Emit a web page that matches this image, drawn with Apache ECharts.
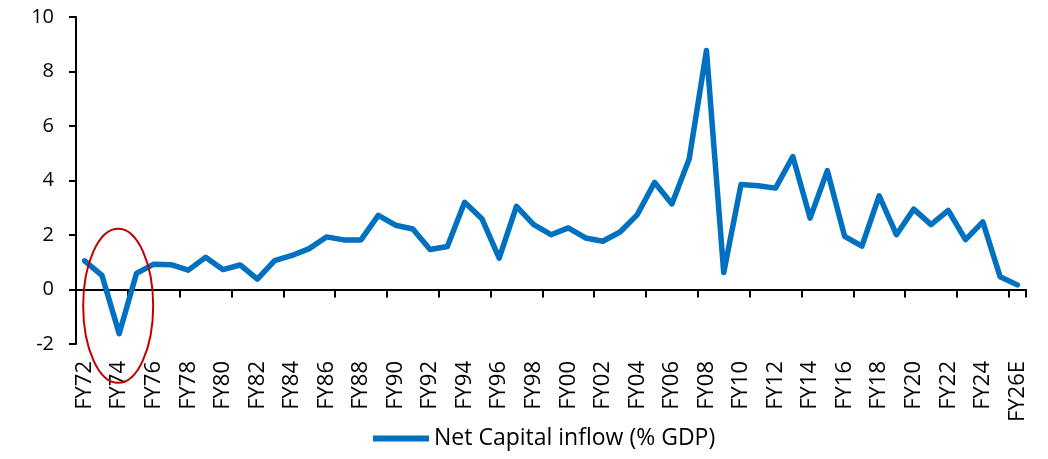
<!DOCTYPE html>
<html>
<head>
<meta charset="utf-8">
<script src="https://cdn.jsdelivr.net/npm/echarts@6/dist/echarts.min.js"></script>
<style>
  html, body { margin: 0; padding: 0; background: #fff; }
  #main { width: 1048px; height: 459px; }
</style>
</head>
<body>
<div id="main"></div>
<script>
// fiscal years FY72 .. FY26E
const years = [
  'FY72', 'FY73', 'FY74', 'FY75', 'FY76', 'FY77', 'FY78', 'FY79', 'FY80', 'FY81',
  'FY82', 'FY83', 'FY84', 'FY85', 'FY86', 'FY87', 'FY88', 'FY89', 'FY90', 'FY91',
  'FY92', 'FY93', 'FY94', 'FY95', 'FY96', 'FY97', 'FY98', 'FY99', 'FY00', 'FY01',
  'FY02', 'FY03', 'FY04', 'FY05', 'FY06', 'FY07', 'FY08', 'FY09', 'FY10', 'FY11',
  'FY12', 'FY13', 'FY14', 'FY15', 'FY16', 'FY17', 'FY18', 'FY19', 'FY20', 'FY21',
  'FY22', 'FY23', 'FY24', 'FY25', 'FY26E'
];

// net capital inflow, % of GDP
const netCapitalInflow = [
  1.05, 0.52, -1.62, 0.59, 0.93, 0.91, 0.71, 1.18, 0.73, 0.90,
  0.38, 1.06, 1.25, 1.50, 1.93, 1.82, 1.82, 2.72, 2.36, 2.22,
  1.47, 1.58, 3.20, 2.60, 1.15, 3.05, 2.38, 2.01, 2.26, 1.89,
  1.77, 2.11, 2.75, 3.93, 3.14, 4.79, 8.77, 0.62, 3.85, 3.81,
  3.72, 4.88, 2.62, 4.36, 1.95, 1.59, 3.44, 2.01, 2.95, 2.38,
  2.90, 1.83, 2.48, 0.47, 0.17
];

const seriesName = 'Net Capital inflow (% GDP)';
const highlightYear = 'FY74';

const chart = echarts.init(document.getElementById('main'));

const option = {
  animation: false,
  textStyle: { fontFamily: 'Open Sans', color: '#000' },
  grid: { left: 76, right: 22, top: 17, bottom: 115 },
  legend: {
    left: 373,
    top: 427,
    padding: 0,
    icon: 'rect',
    itemWidth: 56,
    itemHeight: 6,
    itemGap: 5,
    textStyle: { fontSize: 23, color: '#000', fontFamily: 'Open Sans' },
    data: [seriesName]
  },
  xAxis: [
    {
      // axis line at zero with ticks
      type: 'category',
      data: years,
      boundaryGap: true,
      axisLine: { onZero: true, lineStyle: { color: '#000', width: 2 } },
      axisTick: { show: true, length: 8, lineStyle: { color: '#000', width: 2 } },
      axisLabel: { show: false }
    },
    {
      // labels at the bottom of the plot
      type: 'category',
      data: years,
      position: 'bottom',
      boundaryGap: true,
      axisLine: { show: false, onZero: false },
      axisTick: { show: false },
      axisLabel: {
        interval: 1,
        rotate: 90,
        margin: 17,
        fontSize: 22,
        color: '#000',
        fontFamily: 'Open Sans'
      }
    }
  ],
  yAxis: {
    type: 'value',
    min: -2,
    max: 10,
    interval: 2,
    splitLine: { show: false },
    axisLine: { show: true, lineStyle: { color: '#000', width: 2 } },
    axisTick: { show: true, length: 7, lineStyle: { color: '#000', width: 2 } },
    axisLabel: { fontSize: 20, color: '#000', margin: 22, fontFamily: 'Open Sans' }
  },
  series: [
    {
      name: seriesName,
      type: 'line',
      xAxisIndex: 0,
      data: netCapitalInflow,
      symbol: 'none',
      lineStyle: { color: '#0070C0', width: 5.5, join: 'round', cap: 'round' },
      itemStyle: { color: '#0070C0' }
    }
  ]
};

chart.setOption(option);

// red ellipse around the FY74 dip
const c = chart.convertToPixel({ xAxisIndex: 0, yAxisIndex: 0 }, [highlightYear, -0.6]);
chart.setOption({
  graphic: [{
    type: 'ellipse',
    shape: { cx: c[0] - 1, cy: c[1], rx: 35, ry: 77 },
    style: { fill: 'none', stroke: '#C00000', lineWidth: 2 },
    z: 100
  }]
});
</script>
</body>
</html>
